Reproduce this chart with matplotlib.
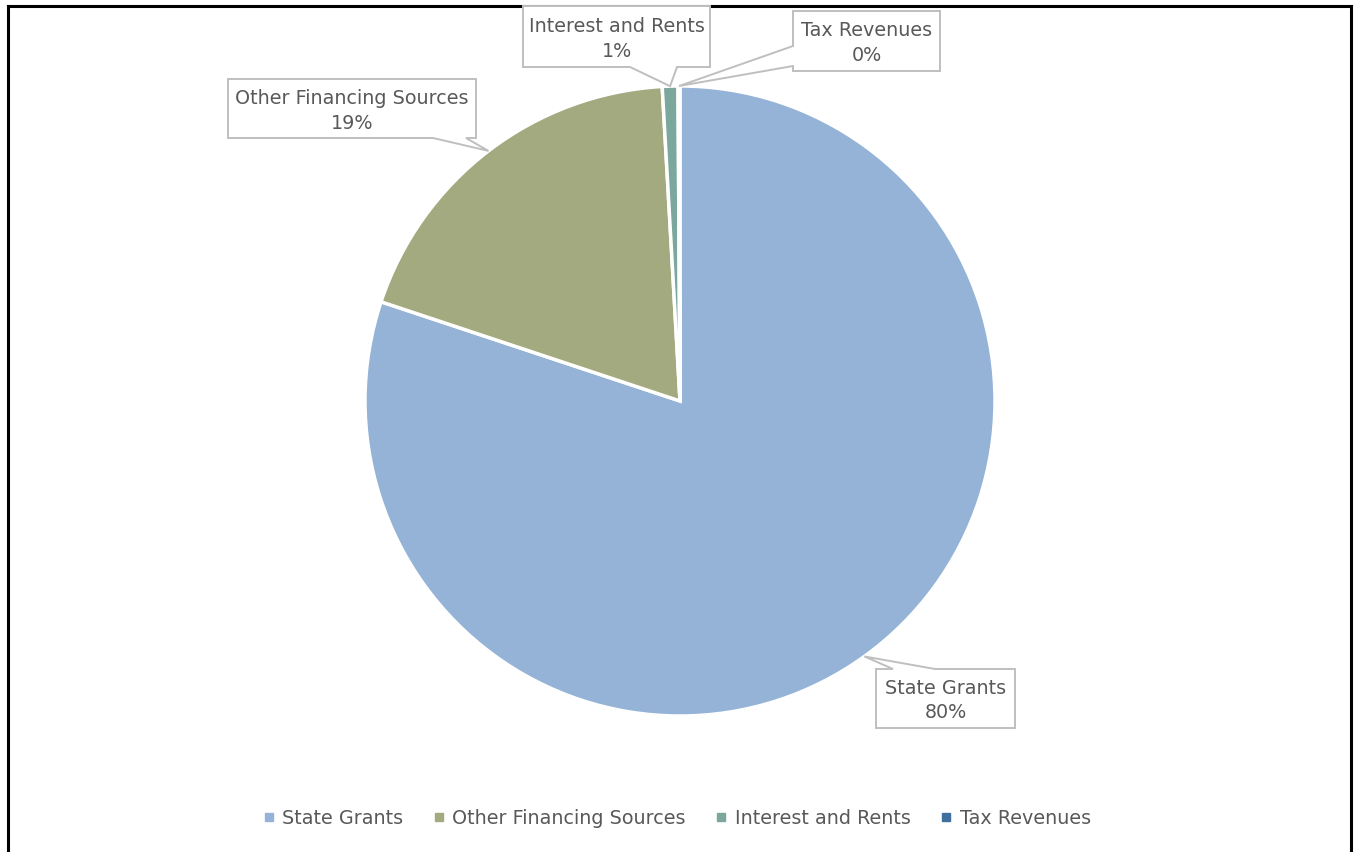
import matplotlib
matplotlib.use('Agg')
import matplotlib.pyplot as plt
from matplotlib.lines import Line2D
from matplotlib.patches import Polygon
import numpy as np

# data
categories = ['State Grants', 'Other Financing Sources', 'Interest and Rents', 'Tax Revenues']
shares = [80.1, 19.0, 0.8, 0.1]
pct_labels = ['80%', '19%', '1%', '0%']
colors = ['#95B3D7', '#A4AA80', '#7BA79D', '#3F6F9C']

W, H = 1354, 853
plt.rcParams['font.family'] = ['DejaVu Sans']
txt_color = '#595959'

fig = plt.figure(figsize=(W / 100, H / 100), dpi=100)

# pie axes: centre (680, 402) px, radius 315 px
cx, cy, R = 680, 402, 315
ax = fig.add_axes([(cx - R) / W, 1 - (cy + R) / H, 2 * R / W, 2 * R / H])
wedges, _ = ax.pie(shares, colors=colors, startangle=90, counterclock=False,
                   wedgeprops=dict(edgecolor='white', linewidth=2.5))
ax.set_xlim(-1, 1)
ax.set_ylim(-1, 1)
ax.set_aspect('equal')

# overlay in pixel coords (y down)
ov = fig.add_axes([0, 0, 1, 1], zorder=5)
ov.set_xlim(0, W)
ov.set_ylim(H, 0)
ov.axis('off')


def tip_of(w):
    a = np.deg2rad((w.theta1 + w.theta2) / 2)
    return (cx + R * np.cos(a), cy - R * np.sin(a))


def callout(box, edge, a, b, tip, text):
    l, t, r, bt = box
    if edge == 'top':
        pts = [(l, t), a, tip, b, (r, t), (r, bt), (l, bt)]
    elif edge == 'bottom':
        pts = [(l, t), (r, t), (r, bt), b, tip, a, (l, bt)]
    else:  # left
        pts = [(l, t), (r, t), (r, bt), (l, bt), b, tip, a]
    ov.add_patch(Polygon(pts, closed=True, facecolor='white',
                         edgecolor='#BFBFBF', linewidth=1.4))
    ov.text((l + r) / 2, (t + bt) / 2 + 1, text, ha='center', va='center',
            fontsize=13.8, color=txt_color, linespacing=1.4)


# label boxes (layout)
boxes = {
    'State Grants': ((876, 670, 1015, 729), 'top', (893, 670), (935, 670)),
    'Other Financing Sources': ((228, 80, 476, 139), 'bottom', (433, 139), (466, 139)),
    'Interest and Rents': ((523, 7, 710, 68), 'bottom', (630, 68), (677, 68)),
    'Tax Revenues': ((793, 12, 940, 72), 'left', (793, 47), (793, 67)),
}
for w, cat, pl in zip(wedges, categories, pct_labels):
    box, edge, a, b = boxes[cat]
    callout(box, edge, a, b, tip_of(w), cat + '\n' + pl)

# legend
handles = [Line2D([], [], marker='s', linestyle='none', markersize=6,
                  markerfacecolor=c, markeredgecolor=c) for c in colors]
fig.legend(handles, categories, loc='center', bbox_to_anchor=(0.5, 1 - 819 / H),
           ncol=4, frameon=False, fontsize=13.8, handlelength=0.6,
           handletextpad=0.4, columnspacing=1.55, labelcolor=txt_color)

# outer border (left, top, right)
for xs, ys in [([8 / W, 8 / W], [0, 1 - 7 / H]),
               ([8 / W, 1351 / W], [1 - 7 / H, 1 - 7 / H]),
               ([1351 / W, 1351 / W], [0, 1 - 7 / H])]:
    fig.add_artist(Line2D(xs, ys, color='black', linewidth=2.2))

fig.savefig('out.png', dpi=100)
